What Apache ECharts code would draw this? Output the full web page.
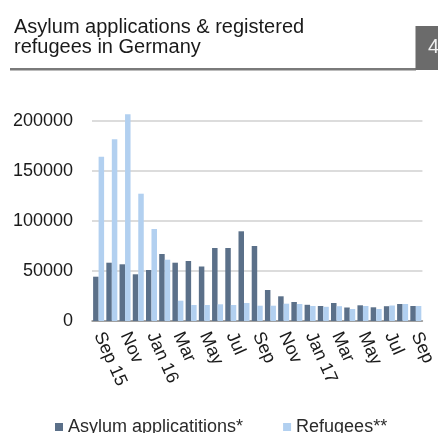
<!DOCTYPE html>
<html>
<head>
<meta charset="utf-8">
<script src="https://cdn.jsdelivr.net/npm/echarts@6/dist/echarts.min.js"></script>
<style>
  html, body { margin: 0; padding: 0; background: #ffffff; }
  #chart { width: 438px; height: 433px; }
</style>
</head>
<body>
<div id="chart"></div>
<script>
// Monthly categories, Sep 2015 – Sep 2017
const months = ['Sep 15', 'Oct', 'Nov', 'Dec', 'Jan 16', 'Feb', 'Mar', 'Apr', 'May', 'Jun', 'Jul', 'Aug',
                'Sep', 'Oct ', 'Nov', 'Dec ', 'Jan 17', 'Feb ', 'Mar', 'Apr ', 'May', 'Jun ', 'Jul', 'Aug ', 'Sep'];

// Asylum applications per month
const asylumApplications = [44300, 58300, 56700, 46700, 51000, 67000, 58300, 60000, 54500, 73000, 73000, 89700,
                            75000, 31000, 24700, 19000, 16200, 15000, 18000, 13500, 15700, 13700, 14800, 17000, 15000];

// Registered refugees per month
const refugees = [164300, 181700, 206700, 127300, 92000, 61300, 20300, 16000, 16000, 16700, 16000, 18000,
                  15300, 15300, 17300, 17000, 15000, 14200, 14800, 12000, 15000, 12000, 15500, 17000, 15000];

// Value axis ticks
const yTicks = [0, 50000, 100000, 150000, 200000];

const seriesNames = ['Asylum applicatitions*', 'Refugees**'];
const titleText = 'Asylum applications & registered\nrefugees in Germany';

const chart = echarts.init(document.getElementById('chart'), null, { renderer: 'canvas' });

const FONT = 'Liberation Sans, Arial, sans-serif';

chart.setOption({
  animation: false,
  backgroundColor: '#ffffff',
  title: {
    text: titleText,
    left: 9,
    top: 12,
    textStyle: {
      fontFamily: FONT,
      fontSize: 20,
      fontWeight: 'normal',
      color: '#1a1a1a',
      lineHeight: 20
    }
  },
  graphic: [
    { type: 'rect', shape: { x: 10, y: 68, width: 406, height: 2.5 }, style: { fill: '#7a7a7a' } },
    { type: 'rect', shape: { x: 415.5, y: 26, width: 23, height: 44 }, style: { fill: '#6b6b6b' } },
    { type: 'text', x: 428, y: 37, style: { text: '4', fill: '#f0f0f0', font: '20px ' + FONT } }
  ],
  grid: {
    left: 92,
    right: 1,
    top: 121,
    bottom: 112,
    containLabel: false
  },
  legend: {
    data: seriesNames,
    left: 50,
    top: 413,
    icon: 'rect',
    itemWidth: 8,
    itemHeight: 8,
    itemGap: 40,
    textStyle: { fontFamily: FONT, fontSize: 18, color: '#2b2b2b' }
  },
  xAxis: {
    type: 'category',
    data: months,
    axisLine: { lineStyle: { color: '#8c8c8c', width: 1.5 } },
    axisTick: { show: false },
    axisLabel: {
      interval: 1,
      rotate: -66,
      margin: 12,
      fontFamily: FONT,
      fontSize: 18,
      color: '#1a1a1a'
    }
  },
  yAxis: {
    type: 'value',
    min: yTicks[0],
    max: yTicks[yTicks.length - 1],
    interval: yTicks[1] - yTicks[0],
    axisLine: { show: false },
    axisTick: { show: false },
    splitLine: { lineStyle: { color: '#d0d0d0', width: 1.5 } },
    axisLabel: {
      margin: 19,
      fontFamily: FONT,
      fontSize: 18,
      color: '#1a1a1a',
      formatter: v => String(v)
    }
  },
  series: [
    {
      name: seriesNames[0],
      type: 'bar',
      data: asylumApplications,
      barWidth: 5.5,
      barGap: '0%',
      clip: false,
      itemStyle: { color: '#5b7089' }
    },
    {
      name: seriesNames[1],
      type: 'bar',
      data: refugees,
      barWidth: 5.5,
      barGap: '0%',
      clip: false,
      itemStyle: { color: '#b2d0f0' }
    }
  ]
});
</script>
</body>
</html>
